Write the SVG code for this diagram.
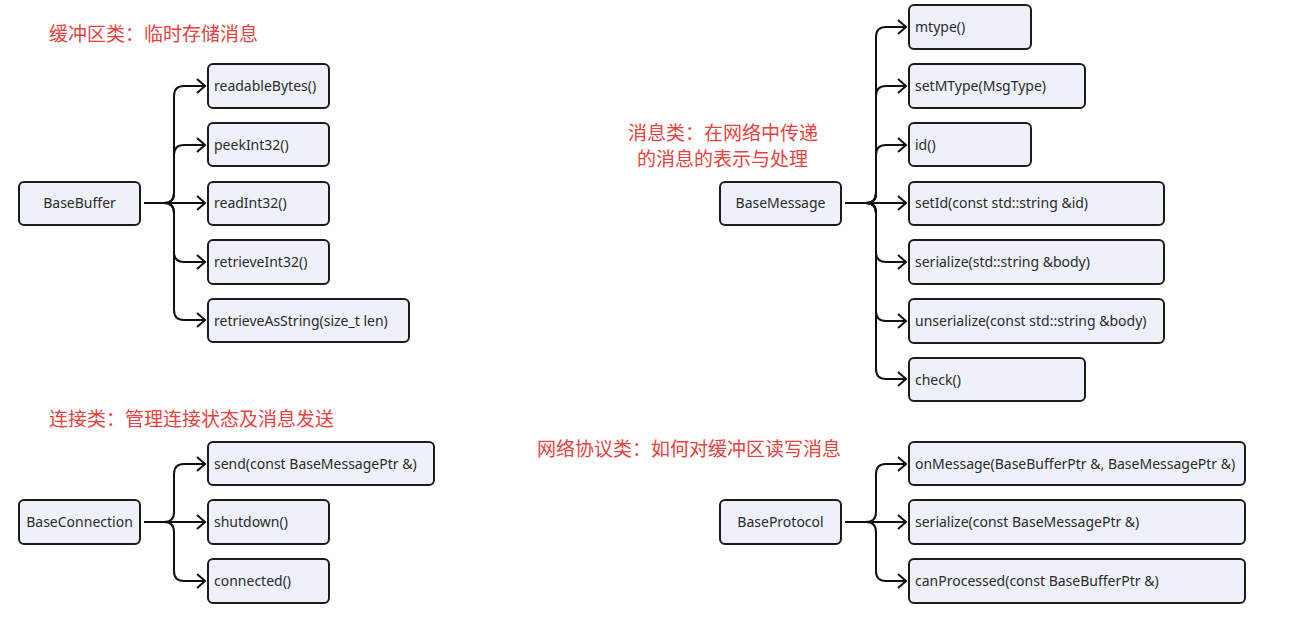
<svg xmlns="http://www.w3.org/2000/svg" width="1291" height="624" viewBox="0 0 1291 624">
<style>
.box{fill:#eef1f9;stroke:#1c1c1c;stroke-width:2}
.t{font-family:"Noto Sans","Noto Sans CJK SC",sans-serif;font-size:14px;fill:#2b2b2b}
.c{text-anchor:middle}
.note{font-family:"Noto Sans CJK SC","Noto Sans",sans-serif;font-size:19px;fill:#ea4040}
.ln{fill:none;stroke:#111;stroke-width:2;marker-end:url(#arr)}
</style>
<defs>
<marker id="arr" markerUnits="userSpaceOnUse" markerWidth="12" markerHeight="16" viewBox="0 0 12 16" refX="10" refY="8" orient="auto">
<path d="M2,1 L10,8 L2,15" fill="none" stroke="#111" stroke-width="2"/>
</marker>
</defs>
<rect width="1291" height="624" fill="#ffffff"/>

<g id="notes">
<text class="note" x="49" y="41">缓冲区类：临时存储消息</text>
<text class="note" x="628" y="140">消息类：在网络中传递</text>
<text class="note" x="637" y="166">的消息的表示与处理</text>
<text class="note" x="49" y="426">连接类：管理连接状态及消息发送</text>
<text class="note" x="537" y="456">网络协议类：如何对缓冲区读写消息</text>
</g>

<g id="connectors">
<!-- BaseBuffer -->
<path class="ln" d="M144,203 H164 Q174,203 174,193 V96 Q174,86 184,86 H205"/>
<path class="ln" d="M144,203 H164 Q174,203 174,193 V155 Q174,145 184,145 H205"/>
<path class="ln" d="M144,203 H205"/>
<path class="ln" d="M144,203 H164 Q174,203 174,213 V252 Q174,262 184,262 H205"/>
<path class="ln" d="M144,203 H164 Q174,203 174,213 V310 Q174,320 184,320 H205"/>
<!-- BaseMessage -->
<path class="ln" d="M845,203 H866 Q876,203 876,193 V37 Q876,27 886,27 H906"/>
<path class="ln" d="M845,203 H866 Q876,203 876,193 V96 Q876,86 886,86 H906"/>
<path class="ln" d="M845,203 H866 Q876,203 876,193 V155 Q876,145 886,145 H906"/>
<path class="ln" d="M845,203 H906"/>
<path class="ln" d="M845,203 H866 Q876,203 876,213 V252 Q876,262 886,262 H906"/>
<path class="ln" d="M845,203 H866 Q876,203 876,213 V311 Q876,321 886,321 H906"/>
<path class="ln" d="M845,203 H866 Q876,203 876,213 V369 Q876,379 886,379 H906"/>
<!-- BaseConnection -->
<path class="ln" d="M144,522 H164 Q174,522 174,512 V474 Q174,464 184,464 H205"/>
<path class="ln" d="M144,522 H205"/>
<path class="ln" d="M144,522 H164 Q174,522 174,532 V571 Q174,581 184,581 H205"/>
<!-- BaseProtocol -->
<path class="ln" d="M845,522 H866 Q876,522 876,512 V474 Q876,464 886,464 H906"/>
<path class="ln" d="M845,522 H906"/>
<path class="ln" d="M845,522 H866 Q876,522 876,532 V571 Q876,581 886,581 H906"/>
</g>

<g id="BaseBuffer"><rect class="box" x="19" y="182" width="121" height="43" rx="5"/><text class="t c" x="79.5" y="208">BaseBuffer</text></g>
<g id="readableBytes"><rect class="box" x="208" y="64" width="121" height="44" rx="5"/><text class="t" x="214" y="91">readableBytes()</text></g>
<g id="peekInt32"><rect class="box" x="208" y="123" width="121" height="43" rx="5"/><text class="t" x="214" y="150">peekInt32()</text></g>
<g id="readInt32"><rect class="box" x="208" y="182" width="121" height="43" rx="5"/><text class="t" x="214" y="208">readInt32()</text></g>
<g id="retrieveInt32"><rect class="box" x="208" y="240" width="121" height="44" rx="5"/><text class="t" x="214" y="267">retrieveInt32()</text></g>
<g id="retrieveAsString"><rect class="box" x="208" y="299" width="201" height="43" rx="5"/><text class="t" x="214" y="326">retrieveAsString(size_t len)</text></g>

<g id="BaseMessage"><rect class="box" x="720" y="182" width="121" height="43" rx="5"/><text class="t c" x="780.5" y="208">BaseMessage</text></g>
<g id="mtype"><rect class="box" x="909" y="5" width="122" height="44" rx="5"/><text class="t" x="915" y="32">mtype()</text></g>
<g id="setMType"><rect class="box" x="909" y="64" width="176" height="44" rx="5"/><text class="t" x="915" y="91">setMType(MsgType)</text></g>
<g id="id"><rect class="box" x="909" y="123" width="122" height="43" rx="5"/><text class="t" x="915" y="150">id()</text></g>
<g id="setId"><rect class="box" x="909" y="182" width="255" height="43" rx="5"/><text class="t" x="915" y="208">setId(const std::string &amp;id)</text></g>
<g id="serialize"><rect class="box" x="909" y="240" width="255" height="44" rx="5"/><text class="t" x="915" y="267">serialize(std::string &amp;body)</text></g>
<g id="unserialize"><rect class="box" x="909" y="299" width="255" height="44" rx="5"/><text class="t" x="915" y="326">unserialize(const std::string &amp;body)</text></g>
<g id="check"><rect class="box" x="909" y="358" width="176" height="43" rx="5"/><text class="t" x="915" y="385">check()</text></g>

<g id="BaseConnection"><rect class="box" x="19" y="500" width="121" height="44" rx="5"/><text class="t c" x="79.5" y="527">BaseConnection</text></g>
<g id="send"><rect class="box" x="208" y="442" width="226" height="43" rx="5"/><text class="t" x="214" y="469">send(const BaseMessagePtr &amp;)</text></g>
<g id="shutdown"><rect class="box" x="208" y="500" width="121" height="44" rx="5"/><text class="t" x="214" y="527">shutdown()</text></g>
<g id="connected"><rect class="box" x="208" y="559" width="121" height="44" rx="5"/><text class="t" x="214" y="586">connected()</text></g>

<g id="BaseProtocol"><rect class="box" x="720" y="500" width="121" height="44" rx="5"/><text class="t c" x="780.5" y="527">BaseProtocol</text></g>
<g id="onMessage"><rect class="box" x="909" y="442" width="336" height="43" rx="5"/><text class="t" x="915" y="469">onMessage(BaseBufferPtr &amp;, BaseMessagePtr &amp;)</text></g>
<g id="pserialize"><rect class="box" x="909" y="500" width="336" height="44" rx="5"/><text class="t" x="915" y="527">serialize(const BaseMessagePtr &amp;)</text></g>
<g id="canProcessed"><rect class="box" x="909" y="559" width="336" height="44" rx="5"/><text class="t" x="915" y="586">canProcessed(const BaseBufferPtr &amp;)</text></g>
</svg>
